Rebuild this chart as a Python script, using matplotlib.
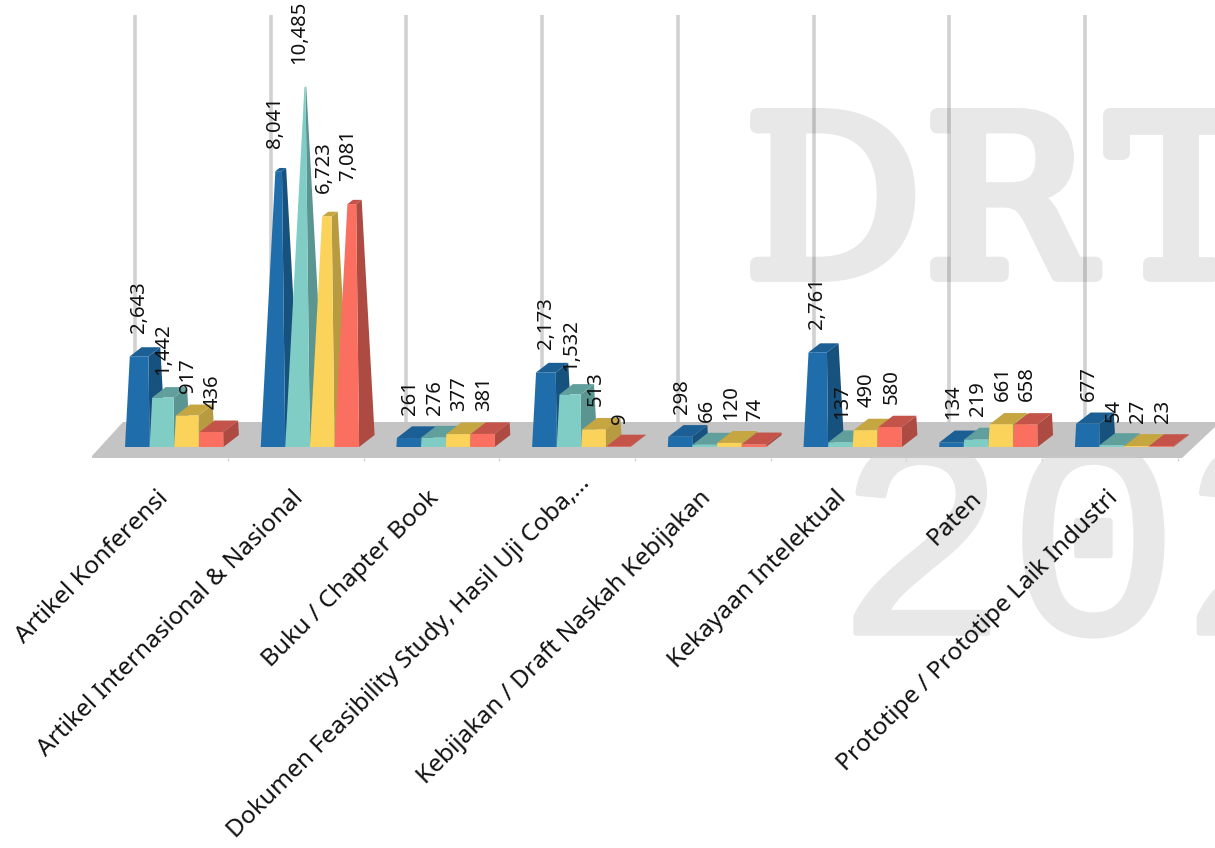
import matplotlib
matplotlib.use('Agg')
import matplotlib.pyplot as plt
import matplotlib.patheffects as pe
from matplotlib.patches import Polygon

categories = ['Artikel Konferensi', 'Artikel Internasional & Nasional', 'Buku / Chapter Book',
              'Dokumen Feasibility Study, Hasil Uji Coba,\u2026', 'Kebijakan / Draft Naskah Kebijakan',
              'Kekayaan Intelektual', 'Paten', 'Prototipe / Prototipe Laik Industri']
series_1 = [2643, 8041, 261, 2173, 298, 2761, 134, 677]
series_2 = [1442, 10485, 276, 1532, 66, 137, 219, 54]
series_3 = [917, 6723, 377, 513, 120, 490, 661, 27]
series_4 = [436, 7081, 381, 9, 74, 580, 658, 23]

# front, side, top
colors = [('#1f6eab', '#17527f', '#1b5f95'),
          ('#80cdc6', '#5b9591', '#609f9b'),
          ('#fbd25a', '#b89b40', '#c5a640'),
          ('#fb6f60', '#ad4b43', '#c4544a')]

PX_X = 135.7    # pixels per category
PX_Y = 0.0343   # pixels per value unit
FADE = 11000    # value where the perspective closes to a point
BAR_W, DEPTH_X, DEPTH_Y = 24.6, 15.5, 12
MARK = '#e8e8e8'


def dx(p):
    return p / PX_X


def dy(p):
    return p / PX_Y


fig = plt.figure(figsize=(12.15, 8.48), dpi=100)
ax = fig.add_axes([0, 0, 1, 1])
ax.set_xlim(-135 / PX_X, (1215 - 135) / PX_X)
ax.set_ylim(-(848 - 447) / PX_Y, 447 / PX_Y)
ax.axis('off')

# watermark, letters placed one by one since no courier font is around
thick = [pe.withStroke(linewidth=10, foreground=MARK, capstyle='round', joinstyle='round')]
for ch, px in zip('DRT', [745, 925, 1108]):
    ax.text(dx(px - 135), dy(447 - 275), ch, family='DejaVu Serif', fontsize=158, color=MARK,
            ha='left', va='baseline', zorder=0, path_effects=thick)
thin = [pe.withStroke(linewidth=4, foreground=MARK)]
ax.text(dx(836 - 135), dy(447 - 633), '202', family='Liberation Mono', fontsize=206, color=MARK,
        ha='left', va='baseline', zorder=0, path_effects=thin)

n = len(categories)
xs = list(range(n))

# floor and grid lines
ax.vlines(xs, dy(447 - 425), dy(447 - 15), color='black', alpha=0.18, lw=2.6, zorder=1)
floor = [(dx(92 - 135), dy(447 - 456)), (dx(123 - 135), dy(447 - 422)), (dx(1215 - 135), dy(447 - 422)),
         (dx(1215 - 135), dy(447 - 427)), (dx(1182 - 135), dy(447 - 458)), (dx(92 - 135), dy(447 - 458))]
ax.add_patch(Polygon(floor, closed=True, fc='#c4c4c4', ec='none', zorder=2))
for i in range(n):
    ax.vlines(i + dx(93), dy(447 - 461), dy(447 - 458), color='#d5d5d5', lw=1, zorder=2)

all_series = [series_1, series_2, series_3, series_4]
for i in xs:
    for j, values in enumerate(all_series):
        v = values[i]
        front, side, top = colors[j]
        left = -10 + j * BAR_W
        s = max(1 - v / FADE, 0.02)
        apex = left + 0.5 * (BAR_W + DEPTH_X)
        tl = apex + (left - apex) * s
        tr = apex + (left + BAR_W - apex) * s
        d = DEPTH_X * s
        h = DEPTH_Y * s
        base_r = left + BAR_W
        z = 3 + i + j * 0.1
        ax.add_patch(Polygon([(i + dx(base_r), 0), (i + dx(base_r + DEPTH_X), dy(DEPTH_Y)),
                              (i + dx(tr + d), v + dy(h)), (i + dx(tr), v)],
                             closed=True, fc=side, ec='none', zorder=z))
        ax.add_patch(Polygon([(i + dx(tl), v), (i + dx(tr), v),
                              (i + dx(tr + d), v + dy(h)), (i + dx(tl + d), v + dy(h))],
                             closed=True, fc=top, ec='none', zorder=z))
        ax.add_patch(Polygon([(i + dx(left), 0), (i + dx(base_r), 0), (i + dx(tr), v), (i + dx(tl), v)],
                             closed=True, fc=front, ec='none', zorder=z))
        ax.text(i + dx(left + 14), v + dy(23), f'{v:,}', rotation=90, ha='center', va='bottom',
                family='Noto Sans', fontsize=14.6, color='#111111', zorder=20)

# category labels
for i, name in enumerate(categories):
    extra = 15 if name.endswith('\u2026') else 0  # the cut label sits further along
    ax.text(i + dx(21 + extra), dy(447 - 486 + extra), name, rotation=45, rotation_mode='anchor',
            ha='right', va='top', family='Noto Sans', fontsize=17.6, color='#111111', zorder=20)

fig.savefig('out.png', dpi=100)
